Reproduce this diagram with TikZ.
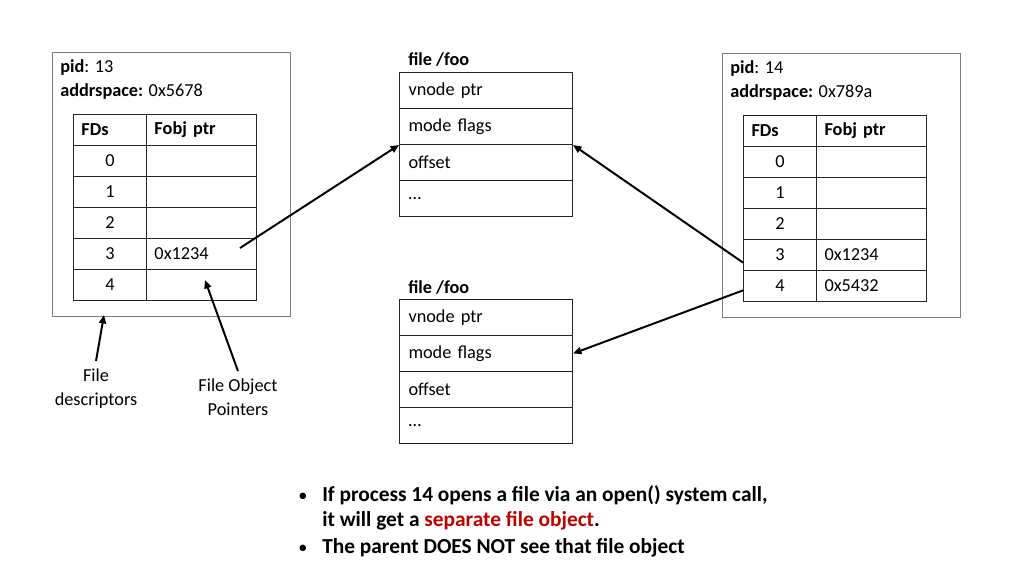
\documentclass[tikz,border=0pt]{standalone}
\usepackage{fontspec}
\setmainfont{Carlito}
\usetikzlibrary{arrows.meta,positioning,calc}
\definecolor{Frame}{HTML}{7F7F7F}
\definecolor{Dark}{HTML}{262626}
\definecolor{Hot}{HTML}{C00000}

\tikzset{
  procbox/.style={draw=Frame,line width=0.8pt,minimum width=5.95cm,minimum height=6.6cm,anchor=north west,inner sep=0pt},
  txt/.style={anchor=base west,inner sep=0pt},
  fdcell/.style={draw=Dark,line width=0.7pt,minimum width=1.825cm,minimum height=0.775cm,anchor=north west,inner sep=0pt},
  fdhead/.style={fdcell,text width=1.425cm,align=left},
  ptrcell/.style={fdcell,minimum width=2.75cm,text width=2.35cm,align=left},
  frow/.style={draw=Dark,line width=0.7pt,minimum width=4.325cm,minimum height=0.9cm,anchor=north west,inner sep=0pt,text width=3.875cm,align=left},
  ptr/.style={->,line width=1.4pt},
  lbl/.style={align=center,inner sep=0pt},
  note/.style={txt,font=\fontsize{15.2}{18}\selectfont\bfseries},
}

\begin{document}
\begin{tikzpicture}[x=0.025cm,y=-0.025cm,font=\fontsize{13}{17}\selectfont,>={Triangle[length=6pt,width=5pt]}]
  \useasboundingbox (0,0) rectangle (1024,576);

  % process 13
  \node[procbox] (lp) at (52,52) {};
  \node[txt] (lpid) at (60,73) {\textbf{pid}: 13};
  \node[txt] (ladr) at (60,97) {\textbf{addrspace:} 0x5678};
  \node[fdhead] (lfdh) at (73,114) {\textbf{FDs}};
  \node[ptrcell] (lptrh) at (146,114) {\textbf{Fobj ptr}};
  \foreach \i/\p in {0/,1/,2/,3/0x1234,4/}{
    \node[fdcell] (lfd\i) at (73,{145+31*\i}) {\i};
    \node[ptrcell] (lptr\i) at (146,{145+31*\i}) {\p};
  }

  % process 14
  \node[procbox] (rp) at (722,53) {};
  \node[txt] (rpid) at (730,74) {\textbf{pid}: 14};
  \node[txt] (radr) at (730,98) {\textbf{addrspace:} 0x789a};
  \node[fdhead] (rfdh) at (743,115) {\textbf{FDs}};
  \node[ptrcell] (rptrh) at (816,115) {\textbf{Fobj ptr}};
  \foreach \i/\p in {0/,1/,2/,3/0x1234,4/0x5432}{
    \node[fdcell] (rfd\i) at (743,{146+31*\i}) {\i};
    \node[ptrcell] (rptr\i) at (816,{146+31*\i}) {\p};
  }

  % file objects
  \node[txt] (tatitle) at (408,66) {\textbf{file /foo}};
  \foreach \i/\t in {1/vnode ptr,2/mode flags,3/offset,4/…}
    \node[frow] (ta\i) at (399,{72+36*(\i-1)}) {\t};
  \node[txt] (tbtitle) at (408,294) {\textbf{file /foo}};
  \foreach \i/\t in {1/vnode ptr,2/mode flags,3/offset,4/…}
    \node[frow] (tb\i) at (399,{299+36*(\i-1)}) {\t};

  % pointers
  \coordinate (lsrc) at (240,248);
  \draw[ptr] (lsrc) -- (ta2.south west);
  \draw[ptr] ([yshift=-0.19cm]rfd3.west) -- (ta2.south east);
  \draw[ptr] ([yshift=-0.11cm]rfd4.west) -- (tb2.east);

  % labels
  \node[lbl] (fdlbl) at (96,389) {File\\descriptors};
  \node[lbl] (ptrlbl) at (238,397) {File Object\\Pointers};
  \coordinate (fdtip) at (104,315);
  \coordinate (ptrtip) at (205,280);
  \draw[ptr] ([yshift=0.2cm]fdlbl.north) -- (fdtip);
  \draw[ptr] ([yshift=0.18cm]ptrlbl.north) -- (ptrtip);

  % notes
  \node[txt] (d1) at (298,501) {\textbullet};
  \node[note] (n1) at (322,501) {If process 14 opens a file via an open() system call,};
  \node[note] (n2) at (322,526) {it will get a \textcolor{Hot}{separate file object}.};
  \node[txt] (d2) at (298,553) {\textbullet};
  \node[note] (n3) at (322,553) {The parent DOES NOT see that file object};
\end{tikzpicture}
\end{document}
